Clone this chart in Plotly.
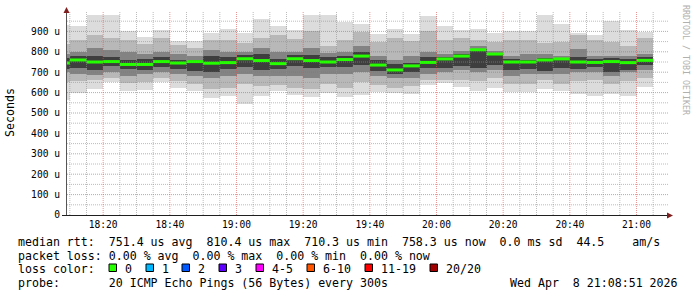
import pandas as pd
import plotly.graph_objects as go

# ---------------- data (microseconds) ----------------
bin_end = pd.date_range("2026-04-08 18:10", periods=36, freq="5min")

median = [745, 760, 750, 752, 738, 738, 752, 745, 752, 744, 747, 766, 757, 742, 766, 757, 750, 762,
          779, 735, 711, 731, 748, 765, 779, 810, 789, 750, 750, 760, 765, 750, 748, 752, 747, 758]

lo1 = [563, 600, 618, 651, 608, 613, 651, 625, 608, 576, 583, 545, 585, 608, 590, 580, 597, 580,
       590, 605, 597, 594, 637, 648, 627, 608, 621, 602, 605, 617, 608, 594, 584, 592, 584, 627]
hi1 = [930, 925, 980, 980, 902, 871, 908, 855, 853, 890, 910, 893, 959, 926, 905, 980, 980, 944,
       934, 887, 910, 885, 975, 926, 905, 910, 892, 902, 902, 978, 934, 893, 880, 952, 908, 895]

lo2 = [650, 655, 662, 670, 645, 650, 670, 655, 640, 620, 625, 640, 630, 635, 625, 620, 640, 625,
       650, 635, 625, 630, 660, 660, 660, 655, 670, 640, 640, 660, 640, 655, 660, 640, 655, 670]
hi2 = [840, 860, 882, 870, 858, 840, 870, 835, 820, 858, 858, 845, 870, 880, 865, 900, 830, 858,
       895, 850, 870, 855, 900, 860, 870, 860, 850, 858, 858, 845, 850, 880, 860, 850, 830, 870]

lo3 = [700, 690, 686, 700, 680, 690, 700, 690, 680, 670, 680, 690, 680, 680, 680, 670, 690, 690,
       700, 680, 670, 670, 690, 700, 710, 700, 710, 680, 690, 690, 690, 700, 700, 680, 700, 710]
hi3 = [790, 800, 817, 810, 800, 790, 800, 790, 780, 810, 800, 800, 820, 800, 800, 820, 795, 800,
       830, 780, 760, 780, 800, 790, 805, 830, 805, 780, 790, 790, 780, 815, 780, 780, 780, 790]

lo4 = [715, 720, 711, 730, 715, 710, 725, 715, 705, 700, 715, 725, 710, 715, 730, 720, 725, 725,
       735, 705, 690, 700, 720, 720, 730, 720, 735, 710, 715, 705, 720, 715, 725, 700, 710, 735]
hi4 = [770, 778, 777, 775, 760, 765, 775, 760, 760, 780, 775, 785, 790, 765, 785, 785, 775, 780,
       800, 760, 740, 745, 775, 775, 790, 815, 790, 765, 760, 770, 770, 775, 765, 770, 765, 775]

y_ticks = [0, 100, 200, 300, 400, 500, 600, 700, 800, 900]
y_tick_text = ["0", "100 u", "200 u", "300 u", "400 u", "500 u", "600 u", "700 u", "800 u", "900 u"]
x_ticks = pd.date_range("2026-04-08 18:20", "2026-04-08 21:00", freq="20min")
x_start, x_end = "2026-04-08 18:08:51", "2026-04-08 21:08:51"

loss_labels = ["0", "1", "2", "3", "4-5", "6-10", "11-19", "20/20"]
loss_colors = ["#26ff00", "#00b8ff", "#0059ff", "#5e00ff", "#ff00ff", "#ff5500", "#ff0000", "#a10000"]

# ---------------- geometry helpers ----------------
W, H = 697, 297
L, R, T, B = 66, 31, 11, 82
PW, PH = W - L - R, H - T - B


def xp(px):
    return (px - L) / PW


def yp(py):
    return (H - B - py) / PH


MONO = "DejaVu Sans Mono"
step = pd.Timedelta("5min")
centers = [t - step / 2 for t in bin_end]
width_ms = step.total_seconds() * 1000

fig = go.Figure()
levels = [(lo1, hi1, "#dcdcdc"), (lo2, hi2, "#b8b8b8"), (lo3, hi3, "#838383"), (lo4, hi4, "#3e3e3e")]
for lo, hi, col in levels:
    fig.add_trace(go.Bar(
        x=centers, base=lo, y=[h - l for l, h in zip(lo, hi)], width=[width_ms] * len(lo),
        marker=dict(color=col, line=dict(width=0)), hoverinfo="skip", showlegend=False))

mx, my = [], []
for t, m in zip(bin_end, median):
    mx += [t - step, t, None]
    my += [m, m, None]
fig.add_trace(go.Scatter(x=mx, y=my, mode="lines", line=dict(color="#26ff00", width=3),
                         hoverinfo="skip", showlegend=False))

MAJOR = "rgba(222,79,79,0.6)"
MINOR = "rgba(143,143,143,0.6)"
shapes = []
# grid (drawn over the smoke like rrdtool)
for v in range(50, 1000, 50):
    major = v % 100 == 0
    shapes.append(dict(type="line", xref="paper", yref="y", x0=xp(67), x1=xp(669), y0=v, y1=v,
                       layer="above", line=dict(color=MAJOR if major else MINOR, width=1, dash="1px,1px")))
for t in pd.date_range("2026-04-08 18:10", "2026-04-08 21:05", freq="5min"):
    major = t.minute % 20 == 0
    shapes.append(dict(type="line", xref="x", yref="paper", x0=t, x1=t, y0=0, y1=yp(12),
                       layer="above", line=dict(color=MAJOR if major else MINOR, width=1, dash="1px,1px")))
# axes + arrows
shapes.append(dict(type="line", xref="paper", yref="paper", x0=xp(66.5), x1=xp(66.5), y0=yp(215), y1=yp(12),
                   layer="above", line=dict(color="#555555", width=1)))
shapes.append(dict(type="line", xref="paper", yref="paper", x0=xp(62), x1=xp(669), y0=yp(215.5), y1=yp(215.5),
                   layer="above", line=dict(color="#1f1f1f", width=1)))
shapes.append(dict(type="path", xref="paper", yref="paper", layer="above",
                   path=f"M {xp(63.5)} {yp(13)} L {xp(69.5)} {yp(13)} L {xp(66.5)} {yp(7)} Z",
                   fillcolor="#801f1f", line=dict(width=0)))
shapes.append(dict(type="path", xref="paper", yref="paper", layer="above",
                   path=f"M {xp(667)} {yp(212.5)} L {xp(667)} {yp(218.5)} L {xp(673)} {yp(215.5)} Z",
                   fillcolor="#801f1f", line=dict(width=0)))
# loss colour boxes
box_x = [109, 146, 182, 219, 256, 307, 365, 430]
for bx, col in zip(box_x, loss_colors):
    shapes.append(dict(type="rect", xref="paper", yref="paper", x0=xp(bx), x1=xp(bx + 7.5),
                       y0=yp(271.5), y1=yp(264), line=dict(color="#000000", width=1), fillcolor=col))

NB = "\u00a0"
ann = []


def text(px, py, s, size=11.6, anchor="left", color="#000000", angle=0):
    ann.append(dict(x=xp(px), y=yp(py), xref="paper", yref="paper", text=s.replace(" ", NB),
                    showarrow=False, xanchor=anchor, yanchor="middle", textangle=angle,
                    font=dict(family=MONO, size=size, color=color)))


text(16, 241.5, "median rtt:  751.4 us avg  810.4 us max  710.3 us min  758.3 us now  0.0 ms sd  44.5    am/s")
text(16, 255.5, "packet loss: 0.00 % avg  0.00 % max  0.00 % min  0.00 % now")
text(16, 269, "loss color:")
for bx, lab in zip(box_x, loss_labels):
    text(bx + 14, 269, lab)
text(16, 283, "probe:       20 ICMP Echo Pings (56 Bytes) every 300s")
text(680, 283, "Wed Apr  8 21:08:51 2026", anchor="right")
ann.append(dict(x=xp(10), y=yp(113), xref="paper", yref="paper", text="Seconds", showarrow=False,
                textangle=-90, xanchor="center", yanchor="middle", font=dict(family=MONO, size=11.6, color="#000")))
ann.append(dict(x=xp(686), y=yp(60), xref="paper", yref="paper", text="RRDTOOL / TOBI OETIKER".replace(" ", NB),
                showarrow=False, textangle=90, xanchor="center", yanchor="middle",
                font=dict(family=MONO, size=8.3, color="#b0b0b0")))

fig.update_layout(
    width=W, height=H, margin=dict(l=L, r=R, t=T, b=B, pad=0),
    paper_bgcolor="#ffffff", plot_bgcolor="#ffffff", barmode="overlay", bargap=0,
    showlegend=False, shapes=shapes, annotations=ann,
    xaxis=dict(type="date", range=[x_start, x_end], tickvals=list(x_ticks), tickformat="%H:%M",
               showgrid=False, zeroline=False, showline=False, ticks="",
               tickfont=dict(family=MONO, size=9.6, color="#000"), ticklabelstandoff=2),
    yaxis=dict(range=[0, 1000], tickvals=y_ticks, ticktext=y_tick_text, showgrid=False, zeroline=False,
               showline=False, ticks="", tickfont=dict(family=MONO, size=9.6, color="#000"),
               ticklabelstandoff=5),
)

fig.write_html("out.html")
